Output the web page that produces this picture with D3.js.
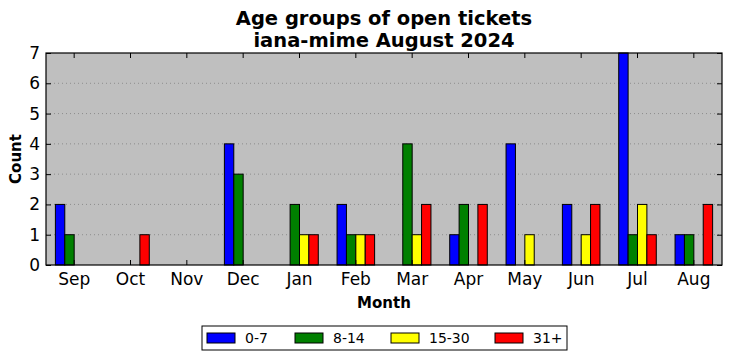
<!DOCTYPE html>
<html>
<head>
<meta charset="utf-8">
<script src="https://cdn.jsdelivr.net/npm/d3@7"></script>
<style>
  body { margin: 0; background: #fff; }
  text { font-family: "DejaVu Sans", sans-serif; }
</style>
</head>
<body>
<svg id="chart"></svg>
<script>
const width = 732;
const height = 361;
const margin = { top: 53, right: 10, bottom: 96, left: 46 };

// Data
const months = ["Sep", "Oct", "Nov", "Dec", "Jan", "Feb", "Mar", "Apr", "May", "Jun", "Jul", "Aug"];
const groups = ["0-7", "8-14", "15-30", "31+"];
const colors = ["#0000ff", "#008000", "#ffff00", "#ff0000"];
const age0to7 = [2, 0, 0, 4, 0, 2, 0, 1, 4, 2, 7, 1];
const age8to14 = [1, 0, 0, 3, 2, 1, 4, 2, 0, 0, 1, 1];
const age15to30 = [0, 0, 0, 0, 1, 1, 1, 0, 1, 1, 2, 0];
const age31plus = [0, 1, 0, 0, 1, 1, 2, 2, 0, 2, 1, 2];
const yTicks = [0, 1, 2, 3, 4, 5, 6, 7];

const series = [age0to7, age8to14, age15to30, age31plus];
const rows = [];
series.forEach((vals, g) => vals.forEach((v, i) => rows.push({ month: months[i], group: groups[g], gi: g, value: v })));

const svg = d3.select("#chart").attr("width", width).attr("height", height);

const plotW = width - margin.left - margin.right;
const plotH = height - margin.top - margin.bottom;

const x = d3.scaleBand().domain(months).range([margin.left, margin.left + plotW]);
const inner = d3.scaleBand().domain(groups).range([-x.bandwidth() / 3, x.bandwidth() / 3]);
const y = d3.scaleLinear().domain([0, 7]).range([margin.top + plotH, margin.top]);

// Plot background
svg.append("rect")
  .attr("x", margin.left).attr("y", margin.top)
  .attr("width", plotW).attr("height", plotH)
  .attr("fill", "#bfbfbf");

// Horizontal grid
svg.append("g")
  .selectAll("line")
  .data(yTicks.slice(1, -1))
  .enter().append("line")
  .attr("x1", margin.left).attr("x2", margin.left + plotW)
  .attr("y1", d => y(d)).attr("y2", d => y(d))
  .attr("stroke", "#808080")
  .attr("stroke-width", 0.8)
  .attr("stroke-dasharray", "1,3");

// Bars
svg.append("g")
  .selectAll("rect")
  .data(rows)
  .enter().append("rect")
  .attr("x", d => x(d.month) + x.bandwidth() / 2 + inner(d.group))
  .attr("y", d => y(d.value))
  .attr("width", inner.bandwidth())
  .attr("height", d => y(0) - y(d.value))
  .attr("fill", d => colors[d.gi])
  .attr("stroke", "#000")
  .attr("stroke-width", 1);

// Axes (inward ticks on all four sides)
const bottomAxis = d3.axisBottom(x).tickSize(-5).tickPadding(8);
const topAxis = d3.axisTop(x).tickSize(-5).tickFormat("");
const leftAxis = d3.axisLeft(y).tickValues(yTicks).tickFormat(d3.format("d")).tickSize(-5).tickPadding(6);
const rightAxis = d3.axisRight(y).tickValues(yTicks).tickSize(-5).tickFormat("");

function styleAxis(g) {
  g.select(".domain").remove();
  g.selectAll("line").attr("stroke", "#000");
  g.selectAll("text").attr("fill", "#000").style("font-size", "17px");
}

svg.append("g").attr("transform", `translate(0,${margin.top + plotH})`).call(bottomAxis).call(styleAxis);
svg.append("g").attr("transform", `translate(0,${margin.top})`).call(topAxis).call(styleAxis);
svg.append("g").attr("transform", `translate(${margin.left},0)`).call(leftAxis).call(styleAxis);
svg.append("g").attr("transform", `translate(${margin.left + plotW},0)`).call(rightAxis).call(styleAxis);

// Frame
svg.append("rect")
  .attr("x", margin.left).attr("y", margin.top)
  .attr("width", plotW).attr("height", plotH)
  .attr("fill", "none").attr("stroke", "#000").attr("stroke-width", 1.2);

// Title
const title = svg.append("text")
  .attr("text-anchor", "middle")
  .style("font-size", "19.5px").style("font-weight", "bold");
title.append("tspan").attr("x", margin.left + plotW / 2).attr("y", 25).text("Age groups of open tickets");
title.append("tspan").attr("x", margin.left + plotW / 2).attr("y", 47).text("iana-mime August 2024");

// Axis labels
svg.append("text")
  .attr("x", margin.left + plotW / 2).attr("y", 308)
  .attr("text-anchor", "middle")
  .style("font-size", "15px").style("font-weight", "bold")
  .text("Month");

svg.append("text")
  .attr("transform", `translate(21,${margin.top + plotH / 2}) rotate(-90)`)
  .attr("text-anchor", "middle")
  .style("font-size", "15px").style("font-weight", "bold")
  .text("Count");

// Legend
const legend = svg.append("g").attr("transform", "translate(202,326)");
legend.append("rect")
  .attr("width", 365).attr("height", 24)
  .attr("fill", "#fff").attr("stroke", "#000").attr("stroke-width", 1);
const legendX = [5, 93, 189, 293];
groups.forEach((g, i) => {
  legend.append("rect")
    .attr("x", legendX[i]).attr("y", 7)
    .attr("width", 28).attr("height", 10)
    .attr("fill", colors[i]).attr("stroke", "#000").attr("stroke-width", 1);
  legend.append("text")
    .attr("x", legendX[i] + 38).attr("y", 17)
    .style("font-size", "14px")
    .text(g);
});
</script>
</body>
</html>
